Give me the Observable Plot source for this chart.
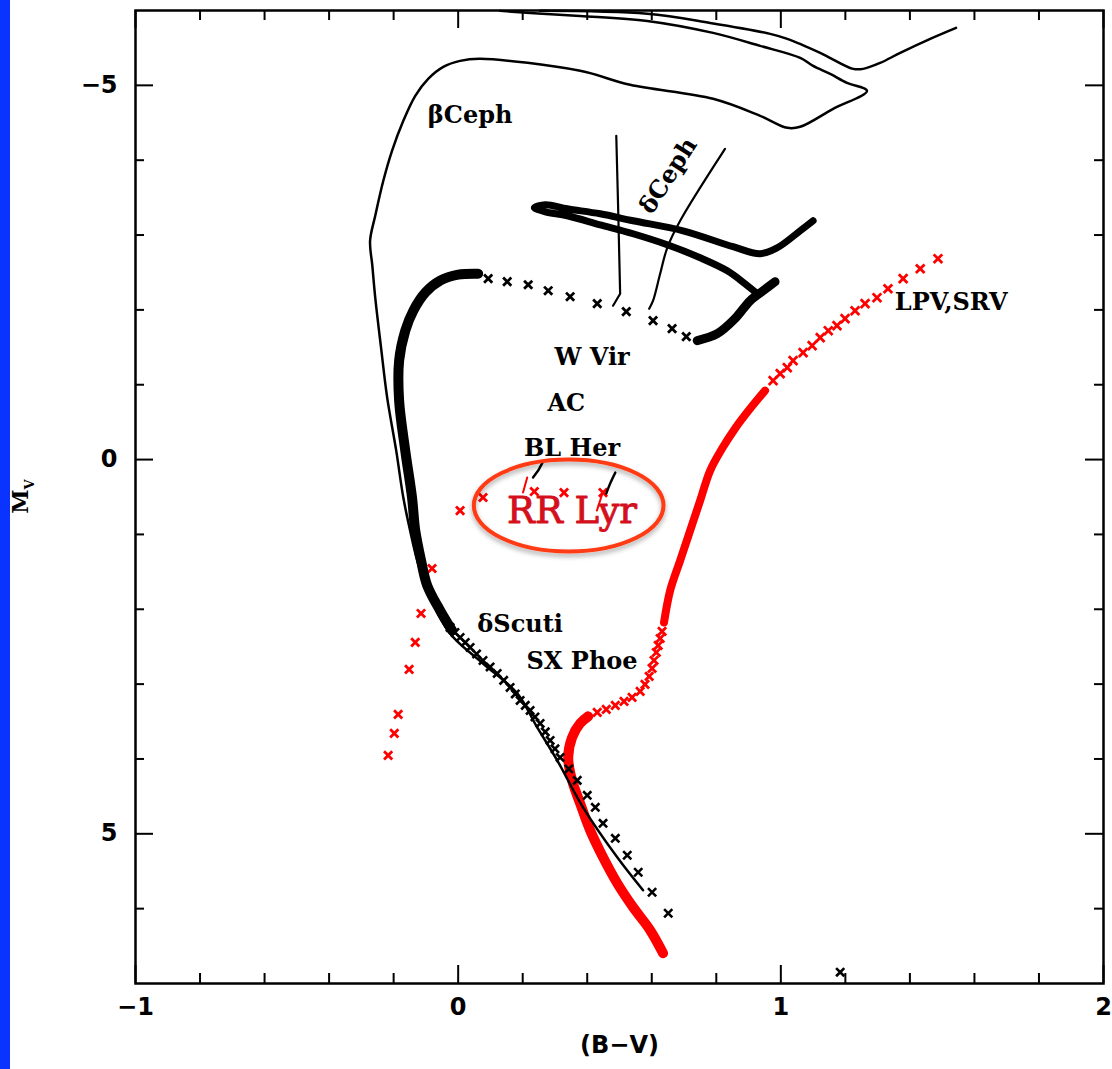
<!DOCTYPE html>
<html><head><meta charset="utf-8">
<script src="https://cdn.jsdelivr.net/npm/d3@7"></script>
<script src="https://cdn.jsdelivr.net/npm/@observablehq/plot@0.6"></script>
<style>
html,body{margin:0;padding:0;background:#fff;}
#wrap{position:relative;width:1112px;height:1069px;overflow:hidden;background:#fff;}
#wrap svg{position:absolute;left:0;top:0;}
#strip{position:absolute;left:0;top:0;width:10px;height:1069px;background:#0a33ff;z-index:2;}
</style></head>
<body><div id="wrap"><div id="strip"></div></div>
<script>
// ---------- data: (B-V, M_V) pairs ----------
// thin line: ZAMS + massive-star track with its loop
const thinTrackLow = [
  [0.573,5.754],[0.493,5.314],[0.387,4.646],[0.307,4.019],[0.245,3.578],[0.183,3.124],
  [0.077,2.724],[-0.025,2.323],[-0.096,1.749],[-0.127,1.348],[-0.149,0.948],[-0.170,0.507],
  [-0.192,-0.120],[-0.220,-0.828],[-0.239,-1.495],[-0.257,-2.163],[-0.266,-2.590],[-0.273,-2.924],
  [-0.257,-3.258],[-0.232,-3.725],[-0.205,-4.125],[-0.170,-4.526],[-0.133,-4.860],[-0.093,-5.087],
  [-0.046,-5.247],[0.006,-5.327],[0.068,-5.354],[0.378,-5.194],[0.533,-5.007],[0.790,-4.820],
  [0.936,-4.593],[1.020,-4.433],[1.060,-4.446],[1.162,-4.686],[1.267,-4.927],[1.205,-5.033],
  [1.153,-5.153],[1.100,-5.260],[1.060,-5.367],[0.936,-5.527],[0.790,-5.701],[0.586,-5.861],
  [0.378,-5.928],[0.223,-5.968],[0.130,-5.995]
];
const thinTrackHigh = [
  [0.254,-5.995],[0.586,-5.955],[0.781,-5.834],[0.967,-5.688],[1.020,-5.621],[1.122,-5.434],
  [1.224,-5.220],[1.255,-5.220],[1.308,-5.300],[1.370,-5.434],[1.463,-5.621],[1.543,-5.768]
];
// instability strip edges
const cephBlueEdge = [[0.490,-4.326],[0.496,-3.324],[0.502,-2.216],[0.480,-2.056]];
const cephRedEdge  = [[0.827,-4.152],[0.688,-3.191],[0.648,-2.830],[0.626,-2.483],[0.604,-2.123],[0.592,-2.016]];
const rrBlueEdge   = [[0.263,0.027],[0.248,0.147],[0.232,0.240]];
const rrRedEdge    = [[0.487,0.174],[0.471,0.320],[0.459,0.454]];
const rrBlueEdgeLow = [[0.214,0.240],[0.201,0.441]];
const rrRedEdgeLow  = [[0.449,0.427],[0.430,0.681]];

// black track (dense parts and separate crosses)
const blackMSDense = [
  [-0.019,2.283],[-0.056,2.016],[-0.096,1.682],[-0.115,1.348],[-0.133,0.948],[-0.143,0.507],
  [-0.164,-0.120],[-0.183,-0.788],[-0.183,-1.322],[-0.164,-1.722],[-0.139,-1.989],[-0.102,-2.230],
  [-0.056,-2.390],[0.000,-2.470],[0.062,-2.483]
];
const blackMSCross = [
  [-0.025,2.243],[-0.010,2.310],[0.006,2.377],[0.022,2.443],[0.037,2.510],[0.057,2.597],[0.077,2.684],
  [0.099,2.770],[0.121,2.857],[0.141,2.950],[0.161,3.044],[0.177,3.131],[0.192,3.218],[0.208,3.284],
  [0.223,3.351],[0.238,3.438],[0.254,3.525],[0.270,3.638],[0.285,3.752],[0.300,3.865],[0.316,3.979],
  [0.343,4.133],[0.369,4.286],[0.400,4.486],[0.425,4.646],[0.449,4.860],[0.487,5.060],[0.524,5.287],
  [0.558,5.514],[0.601,5.781],[0.651,6.061],[1.184,6.849]
];
const blackGapCross = [
  [0.093,-2.417],[0.152,-2.377],[0.217,-2.336],[0.279,-2.256],[0.347,-2.176],
  [0.431,-2.083],[0.521,-1.976],[0.604,-1.856],[0.663,-1.749],[0.707,-1.642]
];
const blackGiant = [[0.741,-1.589],[0.803,-1.682],[0.858,-1.883],[0.905,-2.123],[0.945,-2.256],[0.982,-2.376]];
const blackLoop = [
  [0.927,-2.216],[0.889,-2.350],[0.834,-2.523],[0.750,-2.697],[0.648,-2.870],[0.542,-3.017],
  [0.440,-3.137],[0.338,-3.258],[0.270,-3.311],[0.236,-3.364],[0.270,-3.405],[0.338,-3.351],
  [0.440,-3.284],[0.542,-3.191],[0.697,-3.057],[0.852,-2.844],[0.936,-2.750],[0.989,-2.830],
  [1.060,-3.057],[1.100,-3.191]
];

// red track (old, low-mass star)
const redMSDense = [
  [0.635,6.595],[0.595,6.288],[0.542,5.981],[0.493,5.661],[0.449,5.314],[0.409,4.953],
  [0.378,4.593],[0.353,4.286],[0.341,3.979],[0.353,3.712],[0.378,3.525],[0.403,3.431]
];
const redSubgiantCross = [
  [0.431,3.378],[0.459,3.338],[0.487,3.284],[0.514,3.231],[0.539,3.178],
  [0.564,3.097],[0.579,3.004],[0.592,2.897],[0.601,2.790],[0.607,2.684],[0.614,2.577],
  [0.620,2.483],[0.626,2.390],[0.632,2.296]
];
const redGiantDense = [
  [0.638,2.176],[0.657,1.749],[0.688,1.348],[0.719,0.948],[0.750,0.547],[0.781,0.147],
  [0.818,-0.147],[0.858,-0.414],[0.905,-0.681],[0.951,-0.921]
];
const redGiantCross = [
  [0.976,-1.055],[0.998,-1.148],[1.020,-1.228],[1.038,-1.322],[1.069,-1.429],[1.097,-1.522],
  [1.122,-1.629],[1.147,-1.722],[1.174,-1.789],[1.199,-1.883],[1.230,-1.989],[1.261,-2.083],
  [1.298,-2.163],[1.332,-2.283],[1.379,-2.417],[1.432,-2.550],[1.487,-2.684]
];
const redHBCross = [
  [0.006,0.681],[0.077,0.507],[0.236,0.427],[0.328,0.441],[0.449,0.441],
  [-0.081,1.455],[-0.115,2.056],[-0.133,2.443],[-0.152,2.804],[-0.186,3.405],[-0.198,3.658],[-0.217,3.952]
];

// labels
const classNames = ["βCeph","W Vir","AC","BL Her","δScuti","SX Phoe","LPV,SRV"];
const classBV    = [0.037, 0.415, 0.335, 0.353, 0.192, 0.384, 1.528];
const classMV    = [-4.593,-1.362,-0.748,-0.147, 2.203, 2.697,-2.096];
const cephLabel  = {text: "δCeph", bv: 0.651, mv: -3.792};
const rrLabel    = {text: "RR Lyr", bv: 0.353, mv: 0.694};
const rrRing     = {bv: 0.344, mv: 0.621, halfBV: 0.294, halfMV: 0.614};

const xMajor = [-1, 0, 1, 2];
const xMinor = [-0.8,-0.6,-0.4,-0.2,0.2,0.4,0.6,0.8,1.2,1.4,1.6,1.8];
const yMajor = [-5, 0, 5];
const yMinor = [-4,-3,-2,-1,1,2,3,4,6];
const xTitle = "(B−V)";

// ---------- drawing ----------
const W = 1112, H = 1069, mL = 135, mR = 9, mT = 10, mB = 86;
const innerW = W - mL - mR, innerH = H - mT - mB;
const RED = "#ff0000", INK = "#000";
const xy = {x: d => d[0], y: d => d[1]};
const serif = "'DejaVu Serif', serif";
const sans = "'DejaVu Sans', sans-serif";
const intFmt = d3.format("d");

const labelRows = classNames.map((t, i) => ({t, bv: classBV[i], mv: classMV[i]}));

const chart = Plot.plot({
  width: W, height: H,
  marginLeft: mL, marginRight: mR, marginTop: mT, marginBottom: mB,
  style: {fontFamily: serif, fontSize: "24px", background: "#fff", color: INK, overflow: "visible"},
  x: {domain: [-1, 2]},
  y: {domain: [-6, 7], reverse: true},
  marks: [
    // red track
    Plot.line(redMSDense, {...xy, stroke: RED, strokeWidth: 10, curve: "catmull-rom", strokeLinecap: "round"}),
    Plot.line(redGiantDense, {...xy, stroke: RED, strokeWidth: 8, curve: "catmull-rom", strokeLinecap: "round"}),
    Plot.dot(redSubgiantCross, {...xy, symbol: "times", r: 3.8, stroke: RED, strokeWidth: 2.8}),
    Plot.dot(redGiantCross, {...xy, symbol: "times", r: 4, stroke: RED, strokeWidth: 2.8}),
    Plot.dot(redHBCross, {...xy, symbol: "times", r: 3.8, stroke: RED, strokeWidth: 2.8}),
    // thin lines
    Plot.line(thinTrackLow, {...xy, stroke: INK, strokeWidth: 2.5, curve: "catmull-rom"}),
    Plot.line(thinTrackHigh, {...xy, stroke: INK, strokeWidth: 2.5, curve: "catmull-rom"}),
    Plot.line(cephBlueEdge, {...xy, stroke: INK, strokeWidth: 2.2}),
    Plot.line(cephRedEdge, {...xy, stroke: INK, strokeWidth: 2.2, curve: "catmull-rom"}),
    Plot.line(rrBlueEdge, {...xy, stroke: INK, strokeWidth: 2.4}),
    Plot.line(rrRedEdge, {...xy, stroke: INK, strokeWidth: 2.4, curve: "catmull-rom"}),
    Plot.line(rrBlueEdgeLow, {...xy, stroke: RED, strokeWidth: 2}),
    Plot.line(rrRedEdgeLow, {...xy, stroke: RED, strokeWidth: 2}),
    // black track
    Plot.line(blackMSDense, {...xy, stroke: INK, strokeWidth: 10, curve: "catmull-rom", strokeLinecap: "round"}),
    Plot.line(blackGiant, {...xy, stroke: INK, strokeWidth: 9, curve: "catmull-rom", strokeLinecap: "round"}),
    Plot.line(blackLoop, {...xy, stroke: INK, strokeWidth: 7, curve: "catmull-rom", strokeLinecap: "round", strokeLinejoin: "round"}),
    Plot.dot(blackMSCross, {...xy, symbol: "times", r: 3.8, stroke: INK, strokeWidth: 2.6}),
    Plot.dot(blackGapCross, {...xy, symbol: "times", r: 3.8, stroke: INK, strokeWidth: 2.8}),
    // labels
    Plot.text(labelRows, {x: "bv", y: "mv", text: "t", fontSize: 24, fontWeight: "bold", fontFamily: serif, fill: INK}),
    Plot.text([cephLabel], {x: "bv", y: "mv", text: "text", rotate: -57, fontSize: 24, fontWeight: "bold", fontFamily: serif, fill: INK}),
    Plot.text([rrLabel], {x: "bv", y: "mv", text: "text", fontSize: 37, fontFamily: serif, fill: "#d4101c", stroke: "#d4101c", strokeWidth: 0.9}),
    Plot.text([xTitle], {text: d => d, frameAnchor: "bottom", dy: 69, fontSize: 24, fontWeight: "bold", fontFamily: sans}),
    // frame, ticks, axes
    Plot.frame({stroke: INK, strokeWidth: 2.5}),
    Plot.tickX(xMajor, {x: d => d, insetTop: innerH - 18, strokeWidth: 2}),
    Plot.tickX(xMinor, {x: d => d, insetTop: innerH - 10, strokeWidth: 2}),
    Plot.tickX(xMajor, {x: d => d, insetBottom: innerH - 18, strokeWidth: 2}),
    Plot.tickX(xMinor, {x: d => d, insetBottom: innerH - 10, strokeWidth: 2}),
    Plot.tickY(yMajor, {y: d => d, insetRight: innerW - 18, strokeWidth: 2}),
    Plot.tickY(yMinor, {y: d => d, insetRight: innerW - 9, strokeWidth: 2}),
    Plot.tickY(yMajor, {y: d => d, insetLeft: innerW - 18, strokeWidth: 2}),
    Plot.tickY(yMinor, {y: d => d, insetLeft: innerW - 9, strokeWidth: 2}),
    Plot.axisX({ticks: xMajor, tickFormat: intFmt, tickSize: 0, tickPadding: 14, fontSize: 24, fontWeight: "bold", fontFamily: sans, label: null}),
    Plot.axisY({ticks: yMajor, tickFormat: intFmt, tickSize: 0, tickPadding: 18, fontSize: 24, fontWeight: "bold", fontFamily: sans, label: null})
  ]
});

document.getElementById("wrap").appendChild(chart);

// ring around the RR Lyr label and the subscripted y title, placed with the plot's scales
const sx = chart.scale("x"), sy = chart.scale("y");
const svg = d3.select(chart);
const defs = svg.append("defs");
const f = defs.append("filter").attr("id", "ringShadow").attr("x", "-20%").attr("y", "-20%").attr("width", "140%").attr("height", "150%");
f.append("feDropShadow").attr("dx", 0).attr("dy", 3).attr("stdDeviation", 2.5).attr("flood-color", "#000").attr("flood-opacity", 0.35);
const cx = sx.apply(rrRing.bv), cy = sy.apply(rrRing.mv);
svg.append("ellipse")
  .attr("cx", cx).attr("cy", cy)
  .attr("rx", Math.abs(sx.apply(rrRing.bv + rrRing.halfBV) - cx))
  .attr("ry", Math.abs(sy.apply(rrRing.mv + rrRing.halfMV) - cy))
  .attr("fill", "none").attr("stroke", "#ff3a12").attr("stroke-width", 4)
  .attr("filter", "url(#ringShadow)");

const yMid = (sy.apply(-6) + sy.apply(7)) / 2;
const yt = svg.append("text")
  .attr("transform", `translate(28,${yMid}) rotate(-90)`)
  .attr("text-anchor", "middle")
  .attr("font-family", serif).attr("font-weight", "bold").attr("font-size", 22).attr("fill", INK);
yt.append("tspan").text("M");
yt.append("tspan").attr("font-size", 13).attr("dy", 6).text("V");
</script>
</body></html>
